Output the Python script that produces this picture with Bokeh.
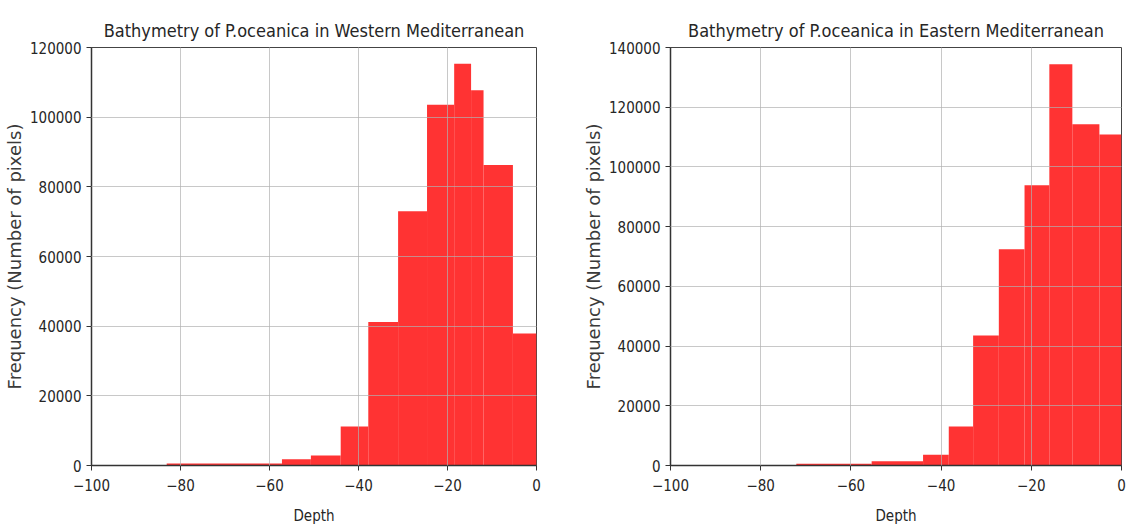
from bokeh.plotting import figure
from bokeh.layouts import row
from bokeh.models import Range1d, FixedTicker, NumeralTickFormatter, ColumnDataSource
from bokeh.embed import file_html
from bokeh.resources import INLINE

# ---- data ----
west_title = "Bathymetry of P.oceanica in Western Mediterranean"
west_edges = [-83.1, -57.2, -50.7, -44.0, -37.8, -31.1, -24.6, -18.5, -14.7, -11.9, -5.3, 0.0]
west_counts = [600, 1800, 2850, 11200, 41200, 73000, 103600, 115300, 107700, 86300, 37900]

east_title = "Bathymetry of P.oceanica in Eastern Mediterranean"
east_edges = [-72.1, -55.4, -44.0, -38.3, -32.9, -27.2, -21.5, -16.0, -10.9, -4.9, 0.0]
east_counts = [600, 1400, 3600, 13100, 43500, 72400, 93900, 134400, 114300, 110900]

x_ticks = [-100, -80, -60, -40, -20, 0]
x_tick_labels = ["\u2212100", "\u221280", "\u221260", "\u221240", "\u221220", "0"]
west_y_ticks = [0, 20000, 40000, 60000, 80000, 100000, 120000]
east_y_ticks = [0, 20000, 40000, 60000, 80000, 100000, 120000, 140000]

x_label = "Depth"
y_label = "Frequency (Number of pixels)"

BAR = "#ff3333"
TXT = "#262626"
COND = "DejaVu Sans Condensed"


def make(title, edges, counts, ymax, yticks, mbl, mbt, mbr, mbb, w, h):
    src = ColumnDataSource(dict(left=edges[:-1], right=edges[1:], top=counts))
    p = figure(width=w, height=h, min_border_left=mbl, min_border_top=mbt,
               min_border_right=mbr, min_border_bottom=mbb,
               x_range=Range1d(-100, 0), y_range=Range1d(0, ymax),
               output_backend="svg", toolbar_location=None, title=title)
    p.quad(left="left", right="right", bottom=0, top="top", source=src,
           fill_color=BAR, line_color=None)

    p.title.text_font = COND
    p.title.text_font_size = "18px"
    p.title.text_font_style = "normal"
    p.title.text_color = TXT
    p.title.align = "center"
    p.title.standoff = 13

    p.xaxis.ticker = FixedTicker(ticks=x_ticks)
    p.xaxis.major_label_overrides = {t: s for t, s in zip(x_ticks, x_tick_labels)}
    p.yaxis.ticker = FixedTicker(ticks=yticks)
    p.yaxis.formatter = NumeralTickFormatter(format="0")

    for ax in (p.xaxis, p.yaxis):
        ax.major_label_text_font = COND
        ax.major_label_text_font_size = "15px"
        ax.major_label_text_color = TXT
        ax.axis_line_color = "#333333"
        ax.axis_line_width = 1.5
        ax.major_tick_line_color = "#333333"
        ax.major_tick_out = 5
        ax.major_tick_in = 0
        ax.minor_tick_line_color = None
    p.yaxis.major_label_standoff = 5
    p.xaxis.major_label_standoff = 8

    p.xaxis.axis_label = x_label
    p.xaxis.axis_label_text_font = COND
    p.xaxis.axis_label_text_font_size = "15px"
    p.xaxis.axis_label_text_font_style = "normal"
    p.xaxis.axis_label_text_color = TXT
    p.xaxis.axis_label_standoff = 13

    p.yaxis.axis_label = y_label
    p.yaxis.axis_label_text_font = "DejaVu Sans"
    p.yaxis.axis_label_text_font_size = "18px"
    p.yaxis.axis_label_text_font_style = "normal"
    p.yaxis.axis_label_text_color = "#3a3a3a"
    p.yaxis.axis_label_standoff = 2

    p.grid.grid_line_color = "#b0b0b0"
    p.grid.grid_line_alpha = 0.7
    p.grid.level = "overlay"

    p.outline_line_color = "#444444"
    p.outline_line_width = 1
    p.outline_line_alpha = 1
    p.background_fill_color = "white"
    p.border_fill_color = "white"
    return p


p1 = make(west_title, west_edges, west_counts, 120000, west_y_ticks,
          91, 47, 24, 65, 560, 530)
p2 = make(east_title, east_edges, east_counts, 140000, east_y_ticks,
          110, 47, 5, 65, 566, 530)

layout = row(p1, p2)
open("out.html", "w").write(file_html(layout, INLINE))
